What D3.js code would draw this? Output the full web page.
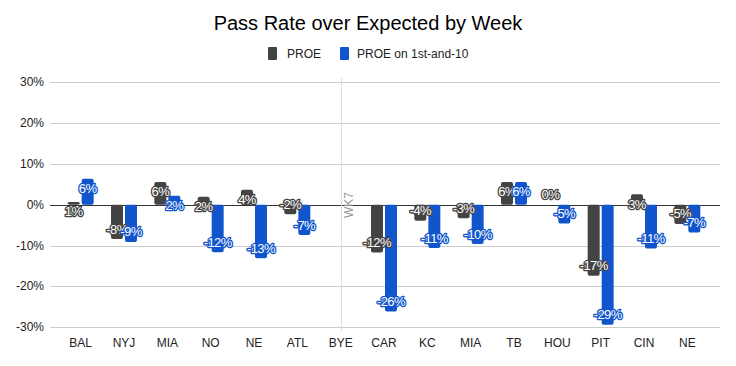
<!DOCTYPE html>
<html><head><meta charset="utf-8">
<script src="https://cdn.jsdelivr.net/npm/d3@7"></script>
<style>body{margin:0;background:#fff}svg{display:block;font-family:Arial,"Liberation Sans",sans-serif}</style>
</head><body><svg id="c" width="736" height="366"></svg>
<script>
const categories = ["BAL","NYJ","MIA","NO","NE","ATL","BYE","CAR","KC","MIA","TB","HOU","PIT","CIN","NE"];
const proe = [0.7,-8.4,5.6,2.0,3.7,-2.3,null,-11.7,-3.9,-3.3,5.6,0,-17.4,2.6,-4.7];
const proe1st10 = [6.4,-9.1,2.2,-11.6,-13.1,-7.4,null,-26.1,-10.6,-9.6,5.6,-4.6,-29.4,-10.7,-6.8];
const seriesNames = ["PROE","PROE on 1st-and-10"];
const yTicks = [-30,-20,-10,0,10,20,30];
const byeLabel = "WK7";
const colors = ["#434343","#1155cc"];

const svg = d3.select("#c");
const x = d3.scaleBand().domain(d3.range(categories.length)).range([59,709]);
const y = d3.scaleLinear().domain([-30,30]).range([327.3,82.3]);
const left = 50, right = 720;

svg.append("text").attr("x",368).attr("y",30).attr("text-anchor","middle")
  .attr("font-size",20).attr("fill","#000").text("Pass Rate over Expected by Week");

// legend
const lg = svg.append("g");
const legItems = [{x:268,tx:287},{x:340,tx:357}];
seriesNames.forEach((n,i)=>{
  lg.append("rect").attr("x",legItems[i].x).attr("y",47).attr("width",9).attr("height",13).attr("rx",1).attr("fill",colors[i]);
  lg.append("text").attr("x",legItems[i].tx).attr("y",58).attr("font-size",12).attr("fill","#222").text(n);
});

// gridlines
yTicks.forEach(t=>{
  svg.append("line").attr("x1",left).attr("x2",right).attr("y1",Math.round(y(t))+0.5).attr("y2",Math.round(y(t))+0.5)
    .attr("stroke",t===0?"#333":"#ccc").attr("stroke-width",1);
  svg.append("text").attr("x",44).attr("y",y(t)+4).attr("text-anchor","end").attr("font-size",12).attr("fill","#222").text(t+"%");
});

// bye line
const byeIdx = categories.indexOf("BYE");
const bx = Math.round(x(byeIdx)+x.bandwidth()/2)+0.5;
svg.append("line").attr("x1",bx).attr("x2",bx).attr("y1",78).attr("y2",331).attr("stroke","#ddd");
svg.append("text").attr("transform",`translate(${bx+11},${205}) rotate(-90)`).attr("text-anchor","middle")
  .attr("font-size",12).attr("fill","#999").text(byeLabel);

// x labels
categories.forEach((c,i)=>{
  svg.append("text").attr("x",x(i)+x.bandwidth()/2).attr("y",347).attr("text-anchor","middle")
    .attr("font-size",12).attr("fill","#222").text(c);
});

// bars
const barW = 12;
[proe,proe1st10].forEach((vals,s)=>{
  const g = svg.append("g");
  vals.forEach((v,i)=>{
    if(v===null) return;
    const cx = x(i)+x.bandwidth()/2;
    const bxp = s===0 ? cx-1-barW : cx+1;
    const y0 = y(0), y1 = y(v);
    const top = Math.min(y0,y1), h = Math.max(Math.abs(y1-y0),0);
    if(h>0) g.append("rect").attr("x",bxp).attr("y",top).attr("width",barW).attr("height",h).attr("rx",2).attr("fill",colors[s]);
  });
});
// labels
[proe,proe1st10].forEach((vals,s)=>{
  vals.forEach((v,i)=>{
    if(v===null) return;
    const cx = x(i)+x.bandwidth()/2;
    const lx = s===0 ? cx-7 : cx+7;
    const ly = v>0 ? y(v)+10 : y(v)-10;
    svg.append("text").attr("x",lx).attr("y",ly+4.5).attr("text-anchor","middle").attr("font-size",13)
      .attr("letter-spacing",-0.6)
      .attr("fill","#fff").attr("stroke",colors[s]).attr("stroke-width",2.6).attr("stroke-linejoin","round")
      .attr("paint-order","stroke").text(Math.round(v)+"%");
  });
});
</script></body></html>
